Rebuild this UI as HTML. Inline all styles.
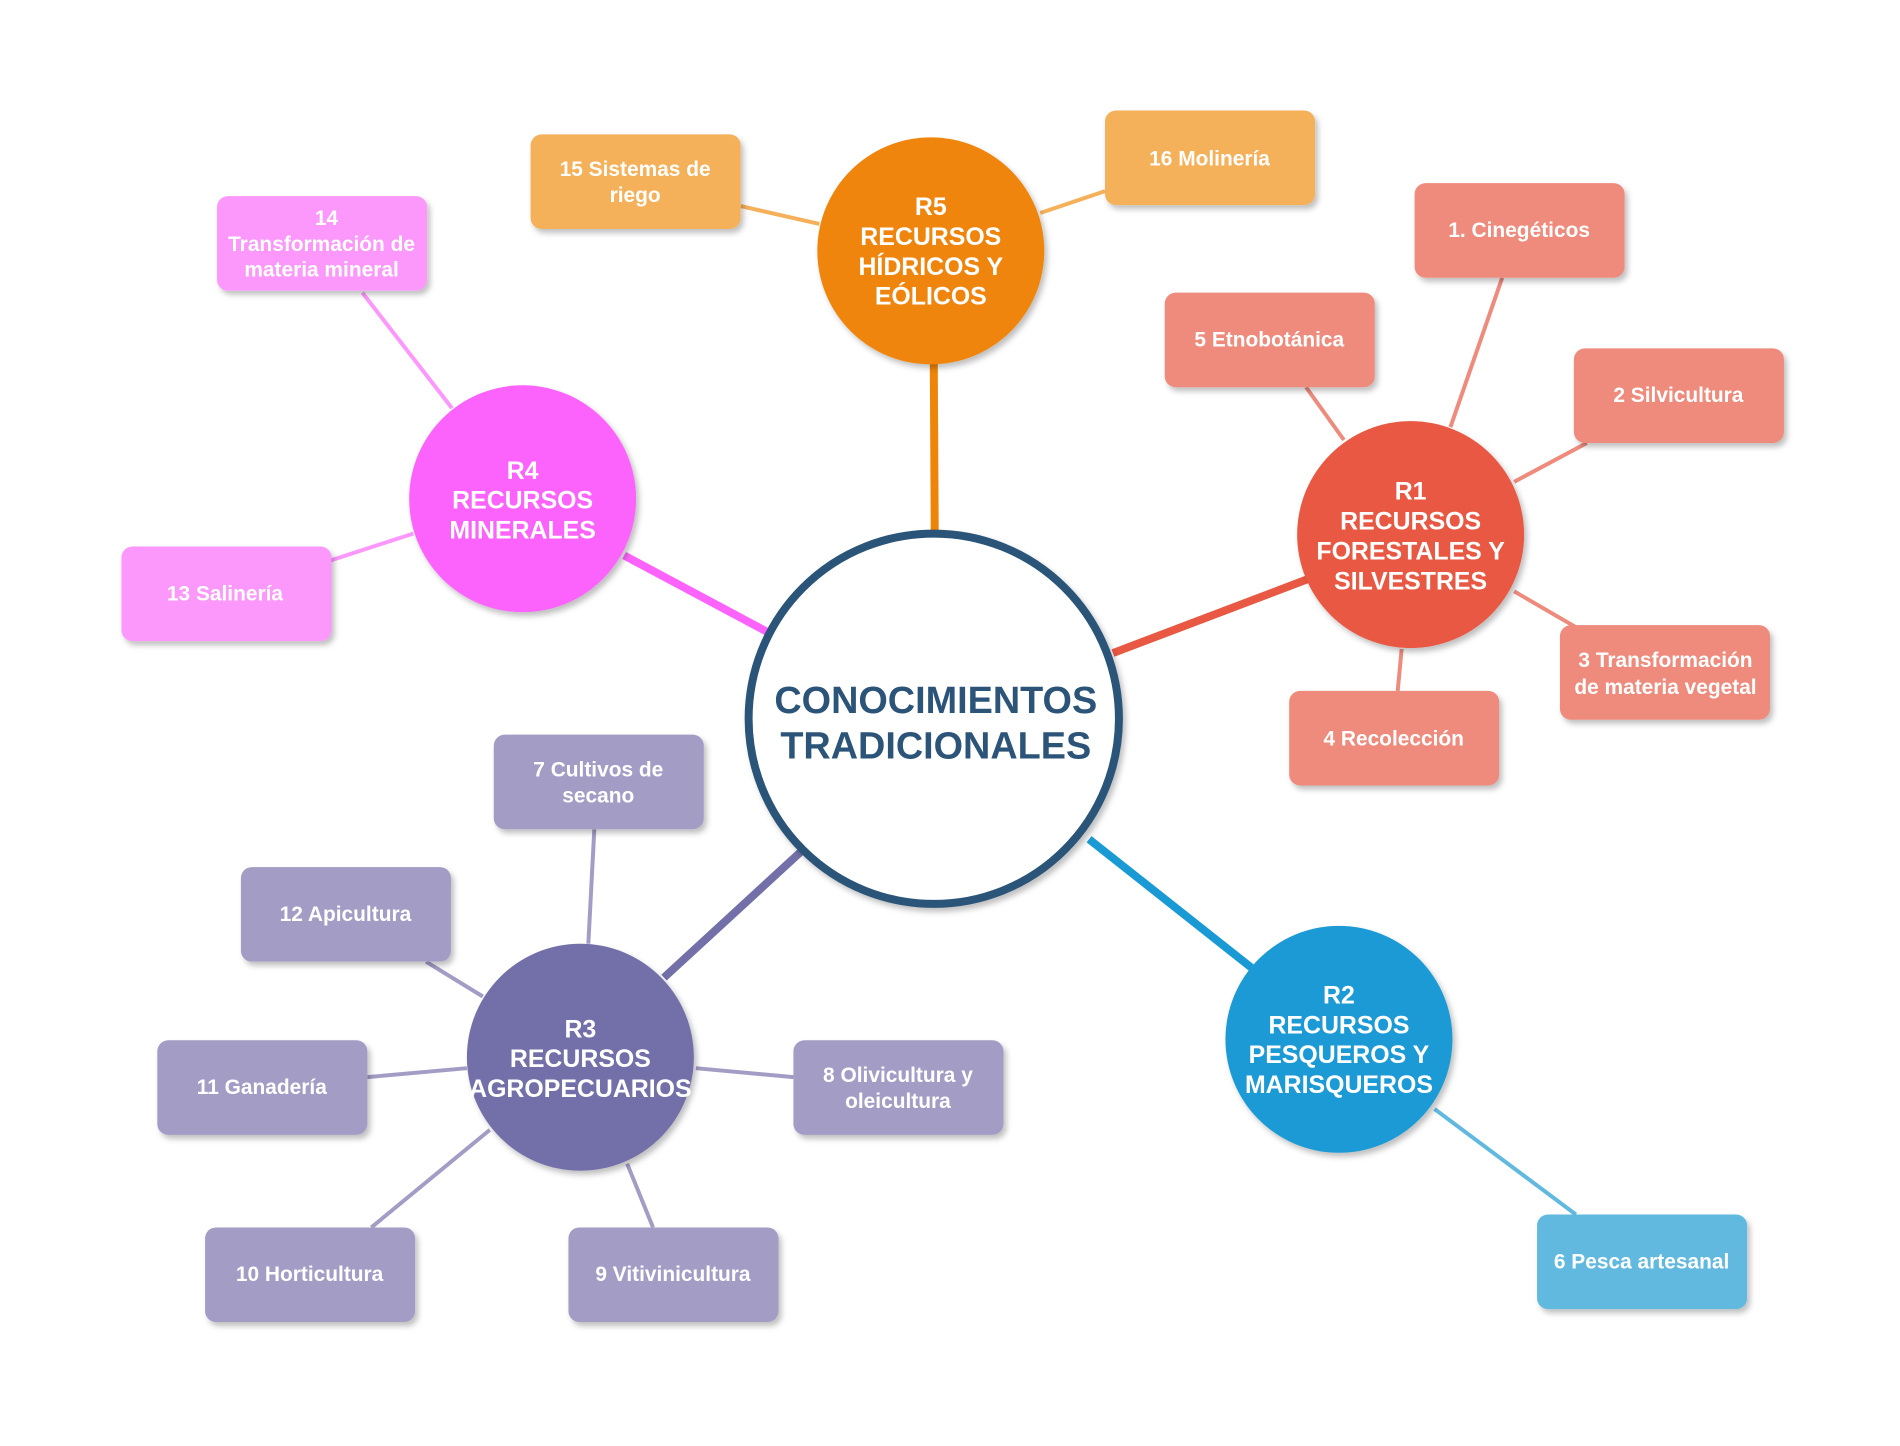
<!DOCTYPE html>
<html><head><meta charset="utf-8"><style>
html,body{margin:0;padding:0;background:#fff}
svg{display:block}
text{font-family:"Liberation Sans",Arial,sans-serif;font-weight:bold;text-anchor:middle}
.b{fill:#fff;font-size:21px}
.r{fill:#fff;font-size:25px}
</style></head><body>
<svg width="1900" height="1446" viewBox="0 0 1900 1446" xmlns="http://www.w3.org/2000/svg">
<defs>
<filter id="s" x="-20%" y="-20%" width="140%" height="150%"><feDropShadow dx="3" dy="4" stdDeviation="3" flood-color="#000" flood-opacity="0.25"/></filter>
</defs>
<g transform="scale(0.9955)">
<g stroke-width="8" stroke-linecap="butt">
<line x1="938" y1="365" x2="939" y2="540" stroke="#ef8508"/>
<line x1="627" y1="558" x2="773" y2="636" stroke="#fc63fc"/>
<line x1="1313" y1="582" x2="1118" y2="656" stroke="#e85843"/>
<line x1="667" y1="982" x2="804" y2="856" stroke="#7370a9"/>
<line x1="1257" y1="972" x2="1094" y2="843" stroke="#1a9ad5"/>
</g>
<g stroke-width="4">
<g stroke="#f5b05a">
<line x1="823" y1="225" x2="744" y2="207"/>
<line x1="1045" y1="214" x2="1110" y2="192"/>
</g>
<g stroke="#fc98fc">
<line x1="454" y1="410" x2="364" y2="294"/>
<line x1="415" y1="536" x2="332" y2="563"/>
</g>
<g stroke="#ee8b7d">
<line x1="1457" y1="429" x2="1509" y2="279"/>
<line x1="1350" y1="442" x2="1312" y2="389"/>
<line x1="1521" y1="484" x2="1594" y2="445"/>
<line x1="1521" y1="594" x2="1583" y2="630"/>
<line x1="1408" y1="652" x2="1404" y2="694"/>
</g>
<g stroke="#a39dc6">
<line x1="591" y1="948" x2="597" y2="833"/>
<line x1="485" y1="1001" x2="428" y2="966"/>
<line x1="469" y1="1073" x2="369" y2="1082"/>
<line x1="699" y1="1073" x2="797" y2="1082"/>
<line x1="492" y1="1135" x2="373" y2="1233"/>
<line x1="630" y1="1169" x2="656" y2="1233"/>
</g>
<line x1="1441" y1="1114" x2="1583" y2="1220" stroke="#62b9e0"/>
</g>
<circle cx="938" cy="722" r="186" fill="#fff" stroke="#2b5478" stroke-width="8" filter="url(#s)"/>
<text x="940" y="716" fill="#2b5478" font-size="38">CONOCIMIENTOS</text>
<text x="940" y="762" fill="#2b5478" font-size="38">TRADICIONALES</text>
<g filter="url(#s)">
<circle cx="935" cy="252" r="114" fill="#ef8508"/>
<circle cx="525" cy="501" r="114" fill="#fc63fc"/>
<circle cx="1417" cy="537" r="114" fill="#e85843"/>
<circle cx="583" cy="1062" r="114" fill="#7370a9"/>
<circle cx="1345" cy="1044" r="114" fill="#1a9ad5"/>
</g>
<text class="r" x="935" y="216">R5</text>
<text class="r" x="935" y="246">RECURSOS</text>
<text class="r" x="935" y="276">HÍDRICOS Y</text>
<text class="r" x="935" y="306">EÓLICOS</text>
<text class="r" x="525" y="481">R4</text>
<text class="r" x="525" y="511">RECURSOS</text>
<text class="r" x="525" y="541">MINERALES</text>
<text class="r" x="1417" y="502">R1</text>
<text class="r" x="1417" y="532">RECURSOS</text>
<text class="r" x="1417" y="562">FORESTALES Y</text>
<text class="r" x="1417" y="592">SILVESTRES</text>
<text class="r" x="583" y="1042">R3</text>
<text class="r" x="583" y="1072">RECURSOS</text>
<text class="r" x="583" y="1102">AGROPECUARIOS</text>
<text class="r" x="1345" y="1008">R2</text>
<text class="r" x="1345" y="1038">RECURSOS</text>
<text class="r" x="1345" y="1068">PESQUEROS Y</text>
<text class="r" x="1345" y="1098">MARISQUEROS</text>
<g filter="url(#s)">
<rect x="533" y="135" width="211" height="95" rx="11" fill="#f5b05a"/>
<rect x="1110" y="111" width="211" height="95" rx="11" fill="#f5b05a"/>
<rect x="218" y="197" width="211" height="95" rx="11" fill="#fc98fc"/>
<rect x="122" y="549" width="211" height="95" rx="11" fill="#fc98fc"/>
<rect x="1421" y="184" width="211" height="95" rx="11" fill="#ee8b7d"/>
<rect x="1170" y="294" width="211" height="95" rx="11" fill="#ee8b7d"/>
<rect x="1581" y="350" width="211" height="95" rx="11" fill="#ee8b7d"/>
<rect x="1567" y="628" width="211" height="95" rx="11" fill="#ee8b7d"/>
<rect x="1295" y="694" width="211" height="95" rx="11" fill="#ee8b7d"/>
<rect x="496" y="738" width="211" height="95" rx="11" fill="#a39dc6"/>
<rect x="242" y="871" width="211" height="95" rx="11" fill="#a39dc6"/>
<rect x="158" y="1045" width="211" height="95" rx="11" fill="#a39dc6"/>
<rect x="797" y="1045" width="211" height="95" rx="11" fill="#a39dc6"/>
<rect x="206" y="1233" width="211" height="95" rx="11" fill="#a39dc6"/>
<rect x="571" y="1233" width="211" height="95" rx="11" fill="#a39dc6"/>
<rect x="1544" y="1220" width="211" height="95" rx="11" fill="#62b9e0"/>
</g>
<text class="b" x="638" y="177">15 Sistemas de</text>
<text class="b" x="638" y="203">riego</text>
<text class="b" x="1215" y="166">16 Molinería</text>
<text class="b" x="328" y="226">14</text>
<text class="b" x="323" y="252">Transformación de</text>
<text class="b" x="323" y="278">materia mineral</text>
<text class="b" x="226" y="603">13 Salinería</text>
<text class="b" x="1526" y="238">1. Cinegéticos</text>
<text class="b" x="1275" y="348">5 Etnobotánica</text>
<text class="b" x="1686" y="404">2 Silvicultura</text>
<text class="b" x="1673" y="670">3 Transformación</text>
<text class="b" x="1673" y="697">de materia vegetal</text>
<text class="b" x="1400" y="749">4 Recolección</text>
<text class="b" x="601" y="780">7 Cultivos de</text>
<text class="b" x="601" y="806">secano</text>
<text class="b" x="347" y="925">12 Apicultura</text>
<text class="b" x="263" y="1099">11 Ganadería</text>
<text class="b" x="902" y="1087">8 Olivicultura y</text>
<text class="b" x="902" y="1113">oleicultura</text>
<text class="b" x="311" y="1287">10 Horticultura</text>
<text class="b" x="676" y="1287">9 Vitivinicultura</text>
<text class="b" x="1649" y="1274">6 Pesca artesanal</text>
</g>
</svg>
</body></html>
